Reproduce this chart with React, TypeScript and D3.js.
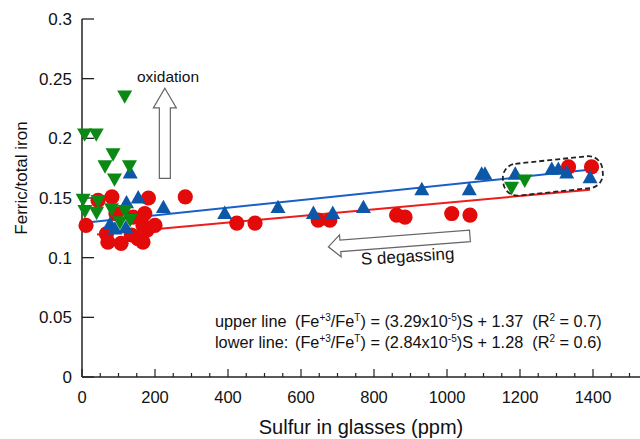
import React from "react";
import * as d3 from "d3";

// ---- data ----
const xTickValues = [0, 200, 400, 600, 800, 1000, 1200, 1400];
const yTickValues = [0, 0.05, 0.1, 0.15, 0.2, 0.25, 0.3];
const yTickLabels = ["0", "0.05", "0.1", "0.15", "0.2", "0.25", "0.3"];

// red circles (lower group): [S ppm, Fe3+/FeT]
const redPoints: [number, number][] = [
  [11, 0.127], [44, 0.148], [82, 0.151], [93, 0.137], [67, 0.12], [71, 0.113],
  [107, 0.112], [135, 0.119], [153, 0.116], [140, 0.134], [167, 0.127], [172, 0.137],
  [182, 0.15], [178, 0.123], [200, 0.127], [167, 0.113], [283, 0.151], [424, 0.129],
  [474, 0.129], [647, 0.1315], [679, 0.1315], [862, 0.1357], [885, 0.134], [1013, 0.137],
  [1063, 0.1357], [1333, 0.176], [1396, 0.176],
];

// blue triangles (upper group)
const bluePoints: [number, number][] = [
  [122, 0.147], [154, 0.151], [77, 0.129], [90, 0.125], [120, 0.126], [132, 0.172],
  [223, 0.143], [391, 0.138], [537, 0.143], [634, 0.138], [687, 0.138], [771, 0.143],
  [931, 0.158], [1061, 0.158], [1095, 0.171], [1104, 0.171], [1187, 0.171], [1287, 0.175],
  [1305, 0.175], [1328, 0.172], [1392, 0.168],
];

// green inverted triangles
const greenPoints: [number, number][] = [
  [117, 0.2345], [7, 0.2027], [39, 0.2027], [85, 0.186], [63, 0.176], [130, 0.176],
  [89, 0.165], [3, 0.148], [44, 0.147], [8, 0.1385], [40, 0.137], [81, 0.14],
  [118, 0.1385], [104, 0.129], [132, 0.131], [1177, 0.158], [1213, 0.164],
];

// regression lines (endpoints)
const upperLine: [number, number][] = [[0, 0.129], [1402, 0.174]];
const lowerLine: [number, number][] = [[41, 0.1195], [1392, 0.157]];

const FONT = "'Liberation Sans', Arial, sans-serif";

export default function App() {
  const W = 640, H = 439;
  const x = d3.scaleLinear().domain([0, 1400]).range([82, 593]);
  const y = d3.scaleLinear().domain([0, 0.3]).range([377, 19]);
  const line = d3.line<[number, number]>().x(d => x(d[0])).y(d => y(d[1]));
  const minorTicks = d3.range(0, 1600, 50);
  const x0 = x(0), yb = y(0);

  const tri = (cx: number, cy: number, up: boolean) => {
    const w = 7.5, h = 6.7;
    return up
      ? `M${cx},${cy - h}L${cx + w},${cy + h}L${cx - w},${cy + h}Z`
      : `M${cx},${cy + h}L${cx + w},${cy - h}L${cx - w},${cy - h}Z`;
  };

  // oxidation arrow (vertical, hollow)
  const oxX = x(227), oxTip = y(0.242), oxBase = y(0.2255), oxBot = y(0.1665);
  const oxPath = `M${oxX},${oxTip}L${oxX + 11.5},${oxBase}L${oxX + 5.5},${oxBase}L${oxX + 5.5},${oxBot}L${oxX - 5.5},${oxBot}L${oxX - 5.5},${oxBase}L${oxX - 11.5},${oxBase}Z`;

  // S degassing arrow (tilted, hollow)
  const sdTipX = x(675), sdTipY = y(0.1091);
  const sdPath = `M0,0L12,-11L12,-5.8L142,-5.8L142,5.8L12,5.8L12,11Z`;

  const boxCx = x(1290), boxCy = y(0.1685);

  return (
    <svg width={W} height={H} style={{ position: "absolute", left: 0, top: 0, background: "#fff" }} fontFamily={FONT}>
      <rect x={0} y={0} width={W} height={H} fill="#fff" />
      {/* axes */}
      <line x1={x0} y1={y(0.3)} x2={x0} y2={yb} stroke="#222" strokeWidth={1.5} />
      <line x1={x0} y1={yb} x2={W} y2={yb} stroke="#222" strokeWidth={1.5} />
      {yTickValues.map((v, i) => (
        <g key={"yt" + i}>
          <line x1={x0} x2={x0 + 12} y1={y(v)} y2={y(v)} stroke="#222" strokeWidth={1.3} />
          <text x={72} y={y(v)} dy="0.36em" textAnchor="end" fontSize={17} fill="#111">{yTickLabels[i]}</text>
        </g>
      ))}
      {minorTicks.map((v, i) => (
        <line key={"mt" + i} x1={x(v)} x2={x(v)} y1={yb} y2={yb - (v % 200 === 0 ? 8 : 4)} stroke="#222" strokeWidth={1.2} />
      ))}
      {xTickValues.map((v, i) => (
        <text key={"xt" + i} x={x(v)} y={403} textAnchor="middle" fontSize={16.5} fill="#111">{v}</text>
      ))}
      <text x={361} y={434} textAnchor="middle" fontSize={20} fill="#111">Sulfur in glasses (ppm)</text>
      <text transform={`translate(27,178) rotate(-90)`} textAnchor="middle" fontSize={17} fill="#111">Ferric/total iron</text>

      {/* regression lines */}
      <path d={line(upperLine) || ""} stroke="#1a5fc8" strokeWidth={2} fill="none" />
      <path d={line(lowerLine) || ""} stroke="#ee1c1c" strokeWidth={2} fill="none" />

      {/* markers */}
      {redPoints.map((d, i) => (
        <circle key={"r" + i} cx={x(d[0])} cy={y(d[1])} r={7.6} fill="#e30a0a" />
      ))}
      {bluePoints.map((d, i) => (
        <path key={"b" + i} d={tri(x(d[0]), y(d[1]), true)} fill="#0d57a8" />
      ))}
      {greenPoints.map((d, i) => (
        <path key={"g" + i} d={tri(x(d[0]), y(d[1]), false)} fill="#0a8a14" />
      ))}

      {/* dashed highlight box */}
      <rect x={boxCx - 50} y={boxCy - 16} width={100} height={32} rx={14} ry={14}
        transform={`rotate(-6 ${boxCx} ${boxCy})`} fill="none" stroke="#222" strokeWidth={1.8} strokeDasharray="5 3" />

      {/* annotations */}
      <text x={168} y={82} textAnchor="middle" fontSize={15.5} fill="#111">oxidation</text>
      <path d={oxPath} fill="#fff" stroke="#666" strokeWidth={1.2} />
      <path d={sdPath} transform={`translate(${sdTipX},${sdTipY}) rotate(-4.4)`} fill="#fff" stroke="#666" strokeWidth={1.2} />
      <text transform={`translate(408,262) rotate(-3.5)`} textAnchor="middle" fontSize={17} fill="#111">S degassing</text>

      <g fontSize={16.3} fill="#111">
        <text x={215} y={327}>upper line</text>
        <text x={295} y={327} style={{ whiteSpace: "pre" }}>
          (Fe<tspan fontSize={10} dy={-6}>+3</tspan><tspan dy={6}>/Fe</tspan><tspan fontSize={10} dy={-6}>T</tspan><tspan dy={6}>) = (3.29x10</tspan><tspan fontSize={10} dy={-6}>-5</tspan><tspan dy={6}>)S + 1.37  (R</tspan><tspan fontSize={10} dy={-6}>2</tspan><tspan dy={6}> = 0.7)</tspan>
        </text>
        <text x={215} y={348}>lower line:</text>
        <text x={295} y={348} style={{ whiteSpace: "pre" }}>
          (Fe<tspan fontSize={10} dy={-6}>+3</tspan><tspan dy={6}>/Fe</tspan><tspan fontSize={10} dy={-6}>T</tspan><tspan dy={6}>) = (2.84x10</tspan><tspan fontSize={10} dy={-6}>-5</tspan><tspan dy={6}>)S + 1.28  (R</tspan><tspan fontSize={10} dy={-6}>2</tspan><tspan dy={6}> = 0.6)</tspan>
        </text>
      </g>
    </svg>
  );
}
